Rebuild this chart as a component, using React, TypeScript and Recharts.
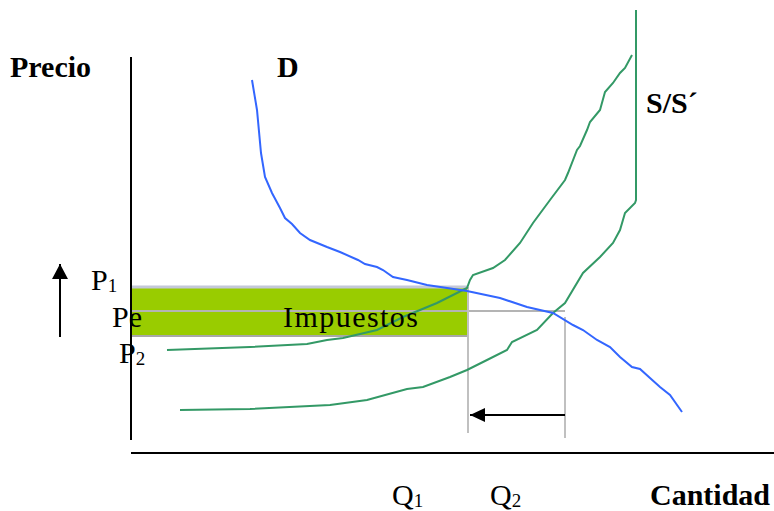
import React from "react";
import { LineChart, Line, XAxis, YAxis, ReferenceArea } from "recharts";

// quantity (q) and price (p)
const demand = [
  { q: 121, p: 373 }, { q: 126, p: 343 }, { q: 130, p: 300 }, { q: 134, p: 276 },
  { q: 141, p: 260 }, { q: 149, p: 245 }, { q: 154, p: 235 }, { q: 161, p: 229 },
  { q: 169, p: 220 }, { q: 179, p: 213 }, { q: 196, p: 206 }, { q: 209, p: 201 },
  { q: 227, p: 193 }, { q: 234, p: 189 }, { q: 246, p: 186 }, { q: 252, p: 183 },
  { q: 262, p: 176 }, { q: 276, p: 173 }, { q: 296, p: 168 }, { q: 316, p: 165 },
  { q: 336, p: 162 }, { q: 369, p: 155 }, { q: 396, p: 146 }, { q: 422, p: 140 },
  { q: 442, p: 128 }, { q: 452, p: 123 }, { q: 466, p: 113 }, { q: 479, p: 106 },
  { q: 489, p: 96 }, { q: 501, p: 86 }, { q: 509, p: 84 }, { q: 519, p: 75 },
  { q: 529, p: 66 }, { q: 539, p: 58 }, { q: 551, p: 41 },
];

const supplyTax = [
  { q: 36, p: 103 }, { q: 119, p: 106 }, { q: 176, p: 109 }, { q: 196, p: 113 },
  { q: 212, p: 115 }, { q: 246, p: 123 }, { q: 272, p: 136 }, { q: 306, p: 150 },
  { q: 336, p: 165 }, { q: 339, p: 173 }, { q: 342, p: 178 }, { q: 362, p: 185 },
  { q: 374, p: 193 }, { q: 389, p: 210 }, { q: 402, p: 230 }, { q: 419, p: 253 },
  { q: 434, p: 273 }, { q: 437, p: 280 }, { q: 446, p: 303 }, { q: 449, p: 307 },
  { q: 456, p: 323 }, { q: 459, p: 331 }, { q: 469, p: 343 }, { q: 474, p: 361 },
  { q: 482, p: 370 }, { q: 489, p: 380 }, { q: 494, p: 385 }, { q: 501, p: 398 },
];

const supply = [
  { q: 49, p: 43 }, { q: 119, p: 44 }, { q: 199, p: 48 }, { q: 236, p: 53 },
  { q: 276, p: 64 }, { q: 292, p: 66 }, { q: 319, p: 76 }, { q: 336, p: 83 },
  { q: 356, p: 93 }, { q: 376, p: 103 }, { q: 381, p: 111 }, { q: 406, p: 123 },
  { q: 422, p: 140 }, { q: 434, p: 150 }, { q: 452, p: 180 }, { q: 469, p: 196 },
  { q: 482, p: 210 }, { q: 489, p: 223 }, { q: 494, p: 240 }, { q: 504, p: 250 },
  { q: 505, p: 253 }, { q: 505, p: 443 },
];

const priceAxis = [{ q: 0, p: 396 }, { q: 0, p: 13 }];
const quantityAxis = [{ q: 0, p: 0 }, { q: 643, p: 0 }];

const taxBox = { q1: 0, q2: 337, pLow: 117, pHigh: 166 };
const topEdge = [{ q: 0, p: 166 }, { q: 337, p: 166 }];
const bottomEdge = [{ q: 0, p: 117 }, { q: 337, p: 117 }];
const peLine = [{ q: 0, p: 142 }, { q: 434, p: 142 }];
const q1Line = [{ q: 337, p: 166 }, { q: 337, p: 20 }];
const q2Line = [{ q: 434, p: 136 }, { q: 434, p: 15 }];

const shiftArrow = [{ q: 434, p: 38 }, { q: 339, p: 38 }];
const priceArrow = [{ q: -71, p: 116 }, { q: -71, p: 189 }];

const serif = "'Liberation Serif', 'Times New Roman', serif";

const leftHead = (props: any) => {
  const { cx, cy, index } = props;
  if (index !== 1) return <g key={`lh${index}`} />;
  return (
    <polygon
      key={`lh${index}`}
      points={`${cx},${cy} ${cx + 15},${cy - 7} ${cx + 15},${cy + 7}`}
      fill="#000"
    />
  );
};

const upHead = (props: any) => {
  const { cx, cy, index } = props;
  if (index !== 1) return <g key={`uh${index}`} />;
  return (
    <polygon
      key={`uh${index}`}
      points={`${cx},${cy} ${cx - 8},${cy + 15} ${cx + 8},${cy + 15}`}
      fill="#000"
    />
  );
};

export default function App() {
  const plain = { isAnimationActive: false, dot: false, activeDot: false, type: "linear" as const };
  return (
    <div style={{ position: "absolute", left: 0, top: 0, width: 774, height: 511, background: "#fff" }}>
      <LineChart width={774} height={511} margin={{ top: 0, right: 0, bottom: 0, left: 0 }}>
        <XAxis type="number" dataKey="q" domain={[-131, 643]} hide allowDataOverflow />
        <YAxis type="number" dataKey="p" domain={[-58, 453]} hide allowDataOverflow />
        <ReferenceArea
          x1={taxBox.q1}
          x2={taxBox.q2}
          y1={taxBox.pLow}
          y2={taxBox.pHigh}
          fill="#99cc00"
          fillOpacity={1}
          stroke="none"
        />
        <Line {...plain} data={topEdge} dataKey="p" stroke="#c4c8d8" strokeWidth={3} />
        <Line {...plain} data={bottomEdge} dataKey="p" stroke="#a8a8a8" strokeWidth={2} />
        <Line {...plain} data={peLine} dataKey="p" stroke="#b4b4b4" strokeWidth={2} />
        <Line {...plain} data={q1Line} dataKey="p" stroke="#c0c0c0" strokeWidth={2} />
        <Line {...plain} data={q2Line} dataKey="p" stroke="#c0c0c0" strokeWidth={2} />
        <Line {...plain} data={priceAxis} dataKey="p" stroke="#000" strokeWidth={2} />
        <Line {...plain} data={quantityAxis} dataKey="p" stroke="#000" strokeWidth={2} />
        <Line {...plain} data={supply} dataKey="p" stroke="#339966" strokeWidth={2} />
        <Line {...plain} data={supplyTax} dataKey="p" stroke="#339966" strokeWidth={2} />
        <Line {...plain} data={demand} dataKey="p" stroke="#3366ff" strokeWidth={2} />
        <Line {...plain} data={shiftArrow} dataKey="p" stroke="#000" strokeWidth={2} dot={leftHead} />
        <Line {...plain} data={priceArrow} dataKey="p" stroke="#000" strokeWidth={2} dot={upHead} />
      </LineChart>
      <svg
        width={774}
        height={511}
        style={{ position: "absolute", left: 0, top: 0, pointerEvents: "none" }}
        fontFamily={serif}
        fontSize={30}
      >
        <text x={10} y={77} fontWeight="bold">Precio</text>
        <text x={277} y={77} fontWeight="bold">D</text>
        <text x={646} y={113} fontWeight="bold">S/S´</text>
        <text x={91} y={290}>P<tspan fontSize={19} dy={2}>1</tspan></text>
        <text x={112} y={327}>Pe</text>
        <text x={119} y={363}>P<tspan fontSize={19} dy={2}>2</tspan></text>
        <text x={283} y={327} textLength={135}>Impuestos</text>
        <text x={392} y={505}>Q<tspan fontSize={19} dy={2}>1</tspan></text>
        <text x={490} y={505}>Q<tspan fontSize={19} dy={2}>2</tspan></text>
        <text x={650} y={505} fontWeight="bold">Cantidad</text>
      </svg>
    </div>
  );
}
